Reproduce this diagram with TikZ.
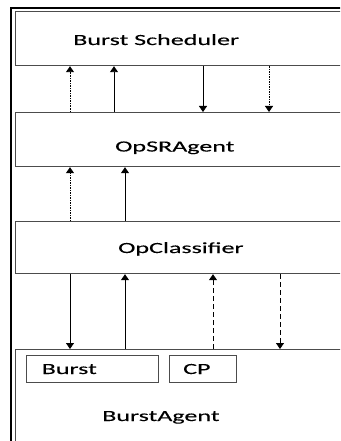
\documentclass[tikz,border=0pt]{standalone}
\usepackage{fontspec}
\setmainfont[FakeStretch=1.68,FakeBold=0.15]{Carlito}
\usetikzlibrary{arrows.meta}
\begin{document}
\begin{tikzpicture}[x=1pt,y=-1pt,
  layer/.style={draw=black!70, line width=1.2pt, anchor=north west, inner sep=0pt},
  lbl/.style={anchor=base west, inner sep=0pt, font=\fontsize{15.5}{18}\selectfont},
  sub/.style={draw=black!70, line width=1pt, anchor=north west, inner sep=0pt},
  arr/.style={line width=0.9pt, -{Triangle[width=8pt,length=6pt]}},
  dotarr/.style={arr, dash pattern=on 1.5pt off 1pt},
  dasharr/.style={arr, dash pattern=on 5pt off 3pt}]
\useasboundingbox (0,0) rectangle (340,441);
\clip (0,0) rectangle (340,441);
\fill[white] (0,0) rectangle (340,441);
% outer frame
\draw[line width=2.5pt] (11,450) -- (11,8) -- (350,8);
% layers
\node[layer, minimum width=340, minimum height=54] (bs) at (15,11) {};
\node[layer, minimum width=340, minimum height=54] (sr) at (15,112) {};
\node[layer, minimum width=340, minimum height=52] (oc) at (15,221) {};
\node[layer, minimum width=340, minimum height=110] (ba) at (15,349) {};
\node[sub, minimum width=132, minimum height=27] (bu) at (26,355) {};
\node[sub, minimum width=67, minimum height=27] (cp) at (169,355) {};
% labels
\node[lbl] (tbs) at (73,45) {Burst Scheduler};
\node[lbl] (tsr) at (115,151.5) {OpSRAgent};
\node[lbl] (toc) at (118,253) {OpClassifier};
\node[lbl] (tbu) at (41.5,374) {Burst};
\node[lbl] (tcp) at (183,374) {CP};
\node[lbl] (tba) at (102,421) {BurstAgent};
% arrows between Burst Scheduler and OpSRAgent
\draw[dotarr] (70,0 |- sr.north) -- (70,0 |- bs.south);
\draw[arr] (114,0 |- sr.north) -- (114,0 |- bs.south);
\draw[arr] (203,0 |- bs.south) -- (203,0 |- sr.north);
\draw[dotarr] (269,0 |- bs.south) -- (269,0 |- sr.north);
% arrows between OpSRAgent and OpClassifier
\draw[dotarr] (70,0 |- oc.north) -- (70,0 |- sr.south);
\draw[arr] (125,0 |- oc.north) -- (125,0 |- sr.south);
% arrows between OpClassifier and BurstAgent
\draw[arr] (70,0 |- oc.south) -- (70,0 |- ba.north);
\draw[arr] (125,0 |- ba.north) -- (125,0 |- oc.south);
\draw[dasharr] (213,0 |- ba.north) -- (213,0 |- oc.south);
\draw[dasharr] (280,0 |- oc.south) -- (280,0 |- ba.north);
\end{tikzpicture}
\end{document}
